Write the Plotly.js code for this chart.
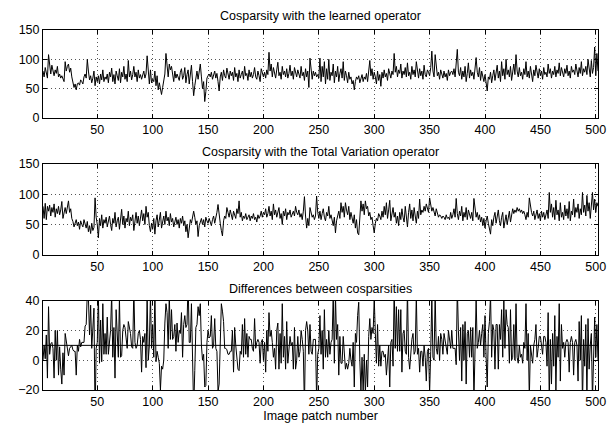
<!DOCTYPE html>
<html>
<head>
<meta charset="utf-8">
<script src="https://cdn.plot.ly/plotly-3.0.1.min.js"></script>
<style>html,body{margin:0;padding:0;background:#fff;}#chart{width:608px;height:425px;}</style>
</head>
<body>
<div id="chart"></div>
<script>
// Cosparsity with the learned operator
const learned = [
80,70,86,75,68,108,86,75,90,78,
72,82,76,88,70,75,68,72,65,62,
96,80,88,92,78,85,70,62,52,58,
48,58,60,56,65,62,58,70,75,68,
100,80,65,72,60,68,80,55,70,62,
72,58,75,65,82,62,70,66,75,60,
78,70,85,62,74,58,80,72,64,84,
60,78,70,88,66,75,62,98,70,80,
65,74,88,70,78,62,82,68,74,66,
72,80,68,75,106,70,58,82,60,66,
62,80,55,72,48,60,50,40,52,64,
75,110,88,70,92,82,88,74,62,80,
68,75,70,64,78,84,66,72,86,60,
74,82,58,70,90,62,38,55,72,80,
66,78,92,70,50,62,28,45,68,72,
75,70,78,66,74,80,68,76,62,46,
70,78,64,82,72,68,85,74,66,80,
72,78,64,86,70,76,62,82,68,74,
80,66,88,72,76,64,82,70,78,68,
74,86,70,66,80,72,62,84,76,70,
78,68,82,74,112,80,92,70,86,74,
68,82,95,72,78,66,88,74,80,70,
84,68,76,90,72,80,66,86,74,70,
82,76,68,88,72,78,64,84,70,80,
52,102,76,66,80,72,78,70,74,68,
102,62,88,70,96,58,84,66,100,64,
78,72,92,60,80,70,88,62,76,84,
68,96,64,80,72,60,78,66,70,58,
64,48,62,70,66,72,60,68,74,62,
70,66,76,62,80,98,72,84,66,78,
70,58,80,64,74,54,78,68,82,70,
76,64,84,72,68,80,74,110,78,88,
70,82,76,92,68,80,74,86,70,94,
72,78,66,88,74,82,70,96,76,68,
84,72,80,66,90,74,70,82,78,72,
86,114,80,70,108,84,72,78,66,82,
74,68,80,70,76,64,82,72,78,80,
74,84,70,90,117,78,72,86,66,80,
70,88,62,76,94,68,82,72,78,66,
84,103,78,70,86,64,80,72,62,74,
58,46,70,66,78,60,72,82,64,76,
90,68,80,62,96,72,84,66,100,74,
82,70,88,64,78,92,74,108,80,70,
86,72,78,66,84,74,96,70,80,68,
88,74,62,82,72,90,76,68,84,72,
80,66,86,74,78,70,92,76,84,68,
80,74,88,70,82,76,94,72,86,78,
70,84,76,90,72,80,68,88,78,82,
74,92,80,70,86,76,96,72,84,78,
88,74,100,80,70,98,76,86,121,72,
110,80];

// Cosparsity with the Total Variation operator
const totalVariation = [
80,60,85,58,80,72,82,64,78,70,
84,62,76,68,80,66,74,88,60,72,
78,68,82,89,70,76,60,55,46,52,
58,48,54,42,56,50,46,58,52,44,
55,38,48,35,52,40,45,94,62,50,
28,60,48,66,44,58,52,62,46,56,
64,50,40,60,52,70,46,56,62,42,
58,75,50,64,44,60,54,72,48,62,
56,66,40,58,70,52,64,48,60,74,
56,68,50,80,62,70,48,38,52,42,
60,34,56,66,46,62,70,44,58,64,
50,72,56,62,48,68,54,60,46,56,
62,50,58,44,60,52,64,48,56,38,
50,28,46,58,52,66,72,62,50,56,
30,48,54,60,50,58,46,62,56,52,
60,54,48,58,64,52,60,70,83,62,
52,40,31,56,64,60,78,70,62,74,
66,58,72,64,60,76,68,89,62,70,
56,64,60,68,58,62,66,56,64,60,
68,58,62,54,66,60,64,72,62,70,
66,76,62,68,80,64,72,58,84,66,
74,62,70,78,60,68,50,72,64,76,
58,70,66,74,62,68,72,64,80,70,
66,74,62,68,58,72,96,64,44,60,
48,78,70,62,66,58,64,97,70,60,
72,58,68,76,62,56,70,64,80,60,
66,58,48,62,36,56,64,72,60,86,
70,80,62,86,74,66,80,58,70,62,
52,66,44,58,36,33,60,89,72,84,
66,89,76,80,64,70,58,62,48,36,
52,60,56,68,64,58,72,62,80,66,
86,60,74,90,56,66,78,62,70,52,
64,48,70,58,76,62,54,80,66,46,
70,84,60,74,56,78,64,52,72,60,
92,66,74,70,80,72,84,76,70,94,
80,72,78,70,64,76,68,62,66,64,
60,64,62,58,66,60,62,58,70,60,
66,76,62,93,68,58,72,64,80,56,
70,62,78,58,74,66,60,70,56,93,
76,62,70,58,66,54,62,48,60,44,
56,64,52,40,34,58,48,62,70,52,
66,74,56,48,62,70,44,58,66,50,
60,72,54,64,76,68,74,70,78,72,
76,70,74,68,72,66,58,70,62,94,
78,70,64,72,58,66,74,60,68,56,
72,62,70,58,66,74,60,103,70,84,
62,78,58,90,66,74,56,86,62,70,
58,82,64,76,60,88,56,72,66,92,
62,78,70,84,60,76,66,103,70,82,
64,98,72,86,60,80,103,74,92,70,
86,80];

const meanDiffLine = 10;
const titles = ["Cosparsity with the learned operator",
                "Cosparsity with the Total Variation operator",
                "Differences between cosparsities"];
const xLabel = "Image patch number";
const xTicks = [50,100,150,200,250,300,350,400,450,500];
const yTicksTop = [0,50,100,150];
const yTicksDiff = [-20,0,20,40];

const patch = learned.map((_, i) => i + 1);
const diff = learned.map((v, i) => v - totalVariation[i]);

const font = {family: "Liberation Sans, Arial, sans-serif", size: 12.5, color: "#000"};
const tickFont = {family: "Liberation Sans, Arial, sans-serif", size: 12.5, color: "#000"};
const lineStyle = {color: "#000", width: 1};

const traces = [
  {x: patch, y: learned, xaxis: "x", yaxis: "y", type: "scatter", mode: "lines", line: lineStyle, hoverinfo: "skip"},
  {x: patch, y: totalVariation, xaxis: "x2", yaxis: "y2", type: "scatter", mode: "lines", line: lineStyle, hoverinfo: "skip"},
  {x: patch, y: diff, xaxis: "x3", yaxis: "y3", type: "scatter", mode: "lines", line: lineStyle, hoverinfo: "skip"}
];

const gridStyle = {showgrid: true, gridcolor: "#555", griddash: "1px,3px", gridwidth: 1};

function xa(anchor) {
  return Object.assign({anchor: anchor, range: [1, 502], tickvals: xTicks, ticks: "inside", ticklen: 4,
    tickcolor: "#000", showline: true, linecolor: "#000", linewidth: 1, mirror: "ticks",
    zeroline: false, tickfont: tickFont, fixedrange: true}, gridStyle);
}
function ya(anchor, domain, range, ticks) {
  return Object.assign({anchor: anchor, domain: domain, range: range, tickvals: ticks, ticks: "inside", ticklen: 4,
    tickcolor: "#000", showline: true, linecolor: "#000", linewidth: 1, mirror: "ticks",
    zeroline: false, tickfont: tickFont, fixedrange: true}, gridStyle);
}

const d1 = [0.7556, 1], d2 = [0.3758, 0.6278], d3 = [0, 0.248];

const layout = {
  width: 608, height: 425,
  margin: {l: 43, r: 10, t: 30, b: 35},
  paper_bgcolor: "#fff", plot_bgcolor: "#fff",
  showlegend: false, font: font,
  xaxis: xa("y"), yaxis: ya("x", d1, [0, 150], yTicksTop),
  xaxis2: xa("y2"), yaxis2: ya("x2", d2, [0, 150], yTicksTop),
  xaxis3: Object.assign(xa("y3"), {title: {text: xLabel, font: font, standoff: 0}}),
  yaxis3: ya("x3", d3, [-20, 40], yTicksDiff),
  shapes: [{type: "line", xref: "x3 domain", x0: 0, x1: 1, yref: "y3", y0: meanDiffLine, y1: meanDiffLine,
            line: {color: "#000", width: 1}}],
  annotations: [
    {text: titles[0], xref: "paper", yref: "paper", x: 0.5, y: d1[1], yanchor: "bottom", yshift: 5, showarrow: false, font: font},
    {text: titles[1], xref: "paper", yref: "paper", x: 0.5, y: d2[1], yanchor: "bottom", yshift: 3, showarrow: false, font: font},
    {text: titles[2], xref: "paper", yref: "paper", x: 0.5, y: d3[1], yanchor: "bottom", yshift: 3, showarrow: false, font: font}
  ]
};

Plotly.newPlot("chart", traces, layout, {staticPlot: true, displayModeBar: false});
</script>
</body>
</html>
